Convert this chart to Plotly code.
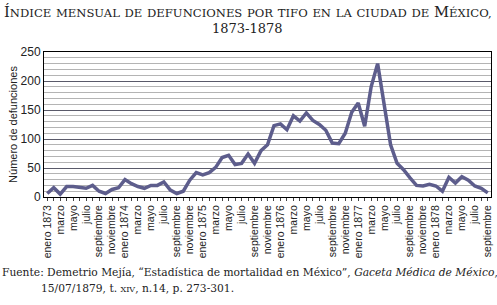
import plotly.graph_objects as go

# Índice mensual de defunciones por tifo, enero 1873 - septiembre 1878
meses = ["enero", "febrero", "marzo", "abril", "mayo", "junio", "julio",
         "agosto", "septiembre", "octubre", "noviembre", "diciembre"]
anios = [1873, 1874, 1875, 1876, 1877, 1878]

defunciones = [
    6, 16, 5, 18, 18, 17, 15, 20, 10, 6, 13, 16,          # 1873
    30, 23, 18, 15, 20, 20, 26, 12, 6, 10, 29, 42,        # 1874
    38, 42, 51, 68, 72, 56, 58, 74, 58, 80, 90, 123,      # 1875
    126, 116, 140, 131, 145, 132, 125, 115, 93, 92, 110, 146,  # 1876
    162, 122, 190, 230, 160, 90, 58, 47, 33, 20, 19, 22,  # 1877
    19, 10, 34, 24, 35, 29, 19, 15, 7,                    # 1878
]

etiquetas = []
for a in anios:
    for m in meses:
        if len(etiquetas) < len(defunciones):
            etiquetas.append(f"{m} {a}" if m == "enero" else m)

x = list(range(len(defunciones)))
ticktext = [t if i % 2 == 0 else "" for i, t in enumerate(etiquetas)]

fig = go.Figure()
fig.add_trace(go.Scatter(
    x=x, y=defunciones, mode="lines",
    line=dict(color="#5d5d8c", width=3.5),
    hoverinfo="x+y",
))

SERIF = "DejaVu Serif"
SANS = "Liberation Sans, Arial"


def versalitas(texto, grande=14.8, chica=11.6):
    # imita las versalitas del título original
    out = []
    for palabra in texto.split(" "):
        if palabra.startswith("Í") or palabra.startswith("MÉ"):
            out.append(f"<span style='font-size:{grande}px'>{palabra[0]}</span>"
                       f"<span style='font-size:{chica}px'>{palabra[1:]}</span>")
        else:
            out.append(f"<span style='font-size:{chica}px'>{palabra}</span>")
    return " ".join(out)


titulo = versalitas("ÍNDICE MENSUAL DE DEFUNCIONES POR TIFO EN LA CIUDAD DE MÉXICO,")
centro = (248.5 - 44) / 449  # centro de la página en coordenadas del área de trazado

fig.add_annotation(text=titulo, xref="paper", yref="paper", x=centro, y=1.0,
                   yshift=51, xanchor="center", yanchor="top", showarrow=False,
                   font=dict(family=SERIF, size=14.8, color="#222"))
fig.add_annotation(text="1873-1878", xref="paper", yref="paper", x=centro, y=1.0,
                   yshift=33, xanchor="center", yanchor="top", showarrow=False,
                   font=dict(family=SERIF, size=13, color="#222"))

fuente1 = ("Fuente: Demetrio Mejía, “Estadística de mortalidad en México”, "
           "<i>Gaceta Médica de México</i>,")
fuente2 = "15/07/1879, t. <span style='font-size:8px'>XIV</span>, n.14, p. 273-301."
fig.add_annotation(text=fuente1, xref="paper", yref="paper", x=0, y=0,
                   xshift=-43, yshift=-68, xanchor="left", yanchor="top", align="left",
                   borderpad=0, showarrow=False,
                   font=dict(family=SERIF, size=10.7, color="#222"))
fig.add_annotation(text=fuente2, xref="paper", yref="paper", x=0, y=0,
                   xshift=-4, yshift=-84, xanchor="left", yanchor="top", align="left",
                   borderpad=0, showarrow=False,
                   font=dict(family=SERIF, size=10.7, color="#222"))

fig.update_layout(
    width=497, height=305,
    margin=dict(l=44, r=4, t=52, b=108),
    paper_bgcolor="white", plot_bgcolor="white",
    showlegend=False,
    xaxis=dict(
        range=[-0.5, len(defunciones) - 0.5],
        tickmode="array", tickvals=x, ticktext=ticktext,
        tickangle=-90, ticks="outside", ticklen=3, tickcolor="#444",
        tickfont=dict(family=SANS, size=10.5, color="#222"),
        ticklabeloverflow="allow",
        showgrid=False, showline=True, linecolor="black", linewidth=1,
        mirror=True, zeroline=False,
    ),
    yaxis=dict(
        range=[0, 250], tickmode="linear", tick0=0, dtick=50,
        tickfont=dict(family=SANS, size=12, color="#222"),
        showgrid=True, gridcolor="#5a5a6a", gridwidth=1,
        minor=dict(dtick=10, showgrid=True, gridcolor="#b4b4b4", gridwidth=1),
        showline=True, linecolor="black", linewidth=1, mirror=True,
        zeroline=False, ticks="", ticklen=0,
        title=dict(text="Número de defunciones", standoff=0,
                   font=dict(family=SANS, size=11, color="#222")),
    ),
)

# la página por defecto deja 8 px de margen en el body; se quita
fig.write_html("out.html", config={"displayModeBar": False},
               post_script="document.body.style.margin='0';")
